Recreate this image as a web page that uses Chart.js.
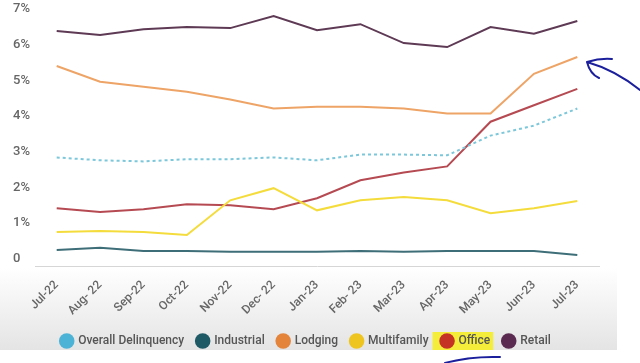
<!DOCTYPE html>
<html>
<head>
<meta charset="utf-8">
<script src="https://cdn.jsdelivr.net/npm/chart.js@4"></script>
<style>
  html, body { margin: 0; padding: 0; background: #fff; }
  #wrap { width: 640px; height: 363px; }
</style>
</head>
<body>
<div id="wrap"><canvas id="chart"></canvas></div>
<script>
// Months along the x axis (as written on the slide)
const months = ['Jul-22', 'Aug- 22', 'Sep-22', 'Oct-22', 'Nov-22', 'Dec- 22', 'Jan-23',
                'Feb- 23', 'Mar-23', 'Apr-23', 'May-23', 'Jun-23', 'Jul-23'];

// Delinquency rates in %
const overall     = [2.84, 2.76, 2.73, 2.79, 2.79, 2.84, 2.76, 2.92, 2.92, 2.90, 3.45, 3.73, 4.21];
const industrial  = [0.25, 0.31, 0.22, 0.22, 0.20, 0.20, 0.20, 0.22, 0.20, 0.22, 0.22, 0.22, 0.11];
const lodging     = [5.40, 4.96, 4.82, 4.68, 4.46, 4.21, 4.26, 4.26, 4.21, 4.07, 4.07, 5.18, 5.65];
const multifamily = [0.75, 0.78, 0.75, 0.67, 1.64, 1.98, 1.36, 1.64, 1.73, 1.64, 1.28, 1.42, 1.62];
const office      = [1.42, 1.31, 1.39, 1.53, 1.50, 1.39, 1.70, 2.20, 2.42, 2.59, 3.84, 4.30, 4.76];
const retail      = [6.38, 6.27, 6.43, 6.49, 6.46, 6.80, 6.40, 6.57, 6.04, 5.93, 6.49, 6.30, 6.66];

const yTicks = [0, 1, 2, 3, 4, 5, 6, 7];

function series(label, data, line, dot, dashed) {
    return {
        label: label,
        data: data,
        borderColor: line,
        backgroundColor: dot,
        borderWidth: 2,
        borderDash: dashed ? [3, 3] : [],
        pointRadius: 0,
        tension: 0,
        fill: false
    };
}

// grey band behind the month labels and legend, plus the highlight on "Office"
const backdrop = {
    id: 'backdrop',
    beforeDraw(chart) {
        const ctx = chart.ctx;
        const top = chart.chartArea.bottom + 2;
        const g = ctx.createLinearGradient(0, top, 0, 350);
        g.addColorStop(0, '#ffffff');
        g.addColorStop(1, '#e4e4e4');
        ctx.save();
        ctx.fillStyle = g;
        ctx.fillRect(0, top, 617, 350 - top);
        const boxes = chart.legend.legendHitBoxes;
        const i = chart.data.datasets.findIndex(d => d.label === 'Office');
        if (boxes && boxes[i]) {
            const b = boxes[i];
            ctx.fillStyle = '#f4ee3a';
            ctx.fillRect(b.left - 9, b.top - 3, b.width + 12, b.height + 6);
        }
        ctx.restore();
    },
    // hand-drawn blue pen marks on the screenshot
    afterDraw(chart) {
        const ctx = chart.ctx;
        ctx.save();
        ctx.strokeStyle = '#1b1f9c';
        ctx.lineWidth = 2;
        ctx.lineCap = 'round';
        ctx.beginPath();
        ctx.moveTo(640, 90);
        ctx.quadraticCurveTo(615, 70, 587, 62);
        ctx.moveTo(587, 62);
        ctx.quadraticCurveTo(600, 58, 612, 59);
        ctx.moveTo(587, 62);
        ctx.quadraticCurveTo(590, 74, 599, 78);
        ctx.moveTo(445, 363);
        ctx.quadraticCurveTo(470, 356, 500, 357);
        ctx.stroke();
        ctx.restore();
    }
};

const ctx = document.getElementById('chart').getContext('2d');
new Chart(ctx, {
    type: 'line',
    data: {
        labels: months,
        datasets: [
            series('Overall Delinquency', overall, '#7cc7da', '#4db3d6', true),
            series('Industrial', industrial, '#3e6e78', '#1e5a66', false),
            series('Lodging', lodging, '#eea466', '#e3843a', false),
            series('Multifamily', multifamily, '#f4dc3c', '#eec51f', false),
            series('Office', office, '#b64a52', '#c53325', false),
            series('Retail', retail, '#5e3a55', '#5a2a50', false)
        ]
    },
    options: {
        responsive: true,
        maintainAspectRatio: false,
        animation: false,
        layout: { padding: { top: -2, right: 41, bottom: 6, left: 13 } },
        plugins: {
            legend: {
                position: 'bottom',
                labels: {
                    usePointStyle: true,
                    pointStyle: 'circle',
                    boxWidth: 11,
                    boxHeight: 11,
                    padding: 13,
                    color: '#555',
                    font: { family: 'Roboto', size: 12, weight: '500' },
                    generateLabels(chart) {
                        return chart.data.datasets.map((d, i) => ({
                            text: d.label,
                            fillStyle: d.backgroundColor,
                            strokeStyle: d.backgroundColor,
                            lineWidth: 0,
                            pointStyle: 'circle',
                            fontColor: '#555',
                            datasetIndex: i
                        }));
                    }
                }
            },
            tooltip: { enabled: false }
        },
        scales: {
            x: {
                offset: true,
                grid: { display: false },
                border: { display: true, color: '#d6d6d6', width: 1 },
                ticks: {
                    color: '#666',
                    font: { family: 'Roboto', size: 12, weight: '500' },
                    minRotation: 45,
                    maxRotation: 45,
                    padding: 4
                }
            },
            y: {
                min: -0.2,
                max: 7,
                grid: { display: false },
                border: { display: false },
                afterBuildTicks(axis) {
                    axis.ticks = yTicks.map(v => ({ value: v }));
                },
                afterFit(axis) {
                    axis.width = 22;
                },
                ticks: {
                    color: '#666',
                    font: { family: 'Roboto', size: 13, weight: '500' },
                    padding: 1,
                    crossAlign: 'far',
                    callback: v => v === 0 ? '0' : v + '%'
                }
            }
        }
    },
    plugins: [backdrop]
});
</script>
</body>
</html>
